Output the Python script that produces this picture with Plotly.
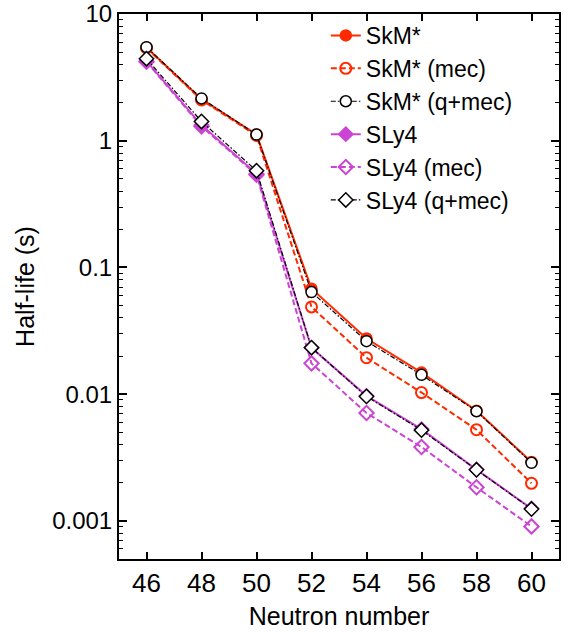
import plotly.graph_objects as go

neutrons = [46, 48, 50, 52, 54, 56, 58, 60]

skm = [5.45, 2.13, 1.12, 0.068, 0.0275, 0.0148, 0.0074, 0.00292]
skm_mec = [5.4, 2.1, 1.1, 0.0488, 0.0194, 0.0103, 0.00524, 0.00198]
skm_qmec = [5.48, 2.16, 1.12, 0.064, 0.0262, 0.0142, 0.00733, 0.00287]

sly4 = [4.25, 1.33, 0.55, 0.0232, 0.0097, 0.0053, 0.00254, 0.00125]
sly4_mec = [4.2, 1.3, 0.54, 0.0175, 0.0071, 0.00383, 0.00184, 0.000904]
sly4_qmec = [4.44, 1.42, 0.58, 0.0233, 0.0096, 0.0052, 0.00253, 0.00124]

xtick_vals = [46, 48, 50, 52, 54, 56, 58, 60]

RED = "#ff2a00"
MAG = "#cc44d4"
FONT = "Liberation Sans, Arial, sans-serif"

fig = go.Figure()

fig.add_trace(go.Scatter(x=neutrons, y=skm, name="SkM*", mode="lines+markers",
                         line=dict(color=RED, width=2),
                         marker=dict(symbol="circle", size=11, color=RED,
                                     line=dict(color=RED, width=1.5))))
fig.add_trace(go.Scatter(x=neutrons, y=skm_mec, name="SkM* (mec)", mode="lines+markers",
                         line=dict(color=RED, width=2, dash="6px,3px"),
                         marker=dict(symbol="circle-open", size=11, color=RED,
                                     line=dict(color=RED, width=2))))
fig.add_trace(go.Scatter(x=neutrons, y=skm_qmec, name="SkM* (q+mec)", mode="lines+markers",
                         line=dict(color="black", width=1.2, dash="5px,2px,1.5px,2px"),
                         marker=dict(symbol="circle", size=11, color="white",
                                     line=dict(color="black", width=1.5))))
fig.add_trace(go.Scatter(x=neutrons, y=sly4, name="SLy4", mode="lines+markers",
                         line=dict(color=MAG, width=2),
                         marker=dict(symbol="diamond", size=11, color=MAG,
                                     line=dict(color=MAG, width=1.5))))
fig.add_trace(go.Scatter(x=neutrons, y=sly4_mec, name="SLy4 (mec)", mode="lines+markers",
                         line=dict(color=MAG, width=2, dash="6px,3px"),
                         marker=dict(symbol="diamond-open", size=11, color=MAG,
                                     line=dict(color=MAG, width=2))))
fig.add_trace(go.Scatter(x=neutrons, y=sly4_qmec, name="SLy4 (q+mec)", mode="lines+markers",
                         line=dict(color="black", width=1.2, dash="5px,2px,1.5px,2px"),
                         marker=dict(symbol="diamond", size=11, color="white",
                                     line=dict(color="black", width=1.5))))

fig.update_layout(
    width=576, height=636,
    margin=dict(l=119, r=17, t=14, b=77, autoexpand=False),
    paper_bgcolor="white", plot_bgcolor="white",
    font=dict(family=FONT, size=25, color="black"),
    showlegend=True,
    legend=dict(x=0.47, y=1.0, xanchor="left", yanchor="top",
                bgcolor="rgba(0,0,0,0)", font=dict(size=23, family=FONT),
                tracegroupgap=0, itemwidth=30),
    xaxis=dict(range=[45, 61], tickmode="array", tickvals=xtick_vals,
               ticks="inside", ticklen=7, tickwidth=1.5, tickcolor="black",
               showline=True, linecolor="black", linewidth=2, mirror="allticks",
               showgrid=False, zeroline=False, automargin=False,
               tickfont=dict(size=26, family=FONT),
               title=dict(text="Neutron number", font=dict(size=25, family=FONT), standoff=10)),
    yaxis=dict(type="log", range=[-3.301, 1.0005], tickmode="linear", tick0=0, dtick=1,
               ticks="inside", ticklen=8, tickwidth=1.5, tickcolor="black",
               showline=True, linecolor="black", linewidth=2, mirror="allticks",
               showgrid=False, zeroline=False, automargin=False,
               ticklabeloverflow="allow",
               minor=dict(dtick="D1", ticks="inside",
                          ticklen=4, tickwidth=1.2, tickcolor="black", showgrid=False),
               tickfont=dict(size=24, family=FONT),
               title=dict(text="Half-life (s)", font=dict(size=25, family=FONT), standoff=10)),
)

fig.write_html("out.html")
